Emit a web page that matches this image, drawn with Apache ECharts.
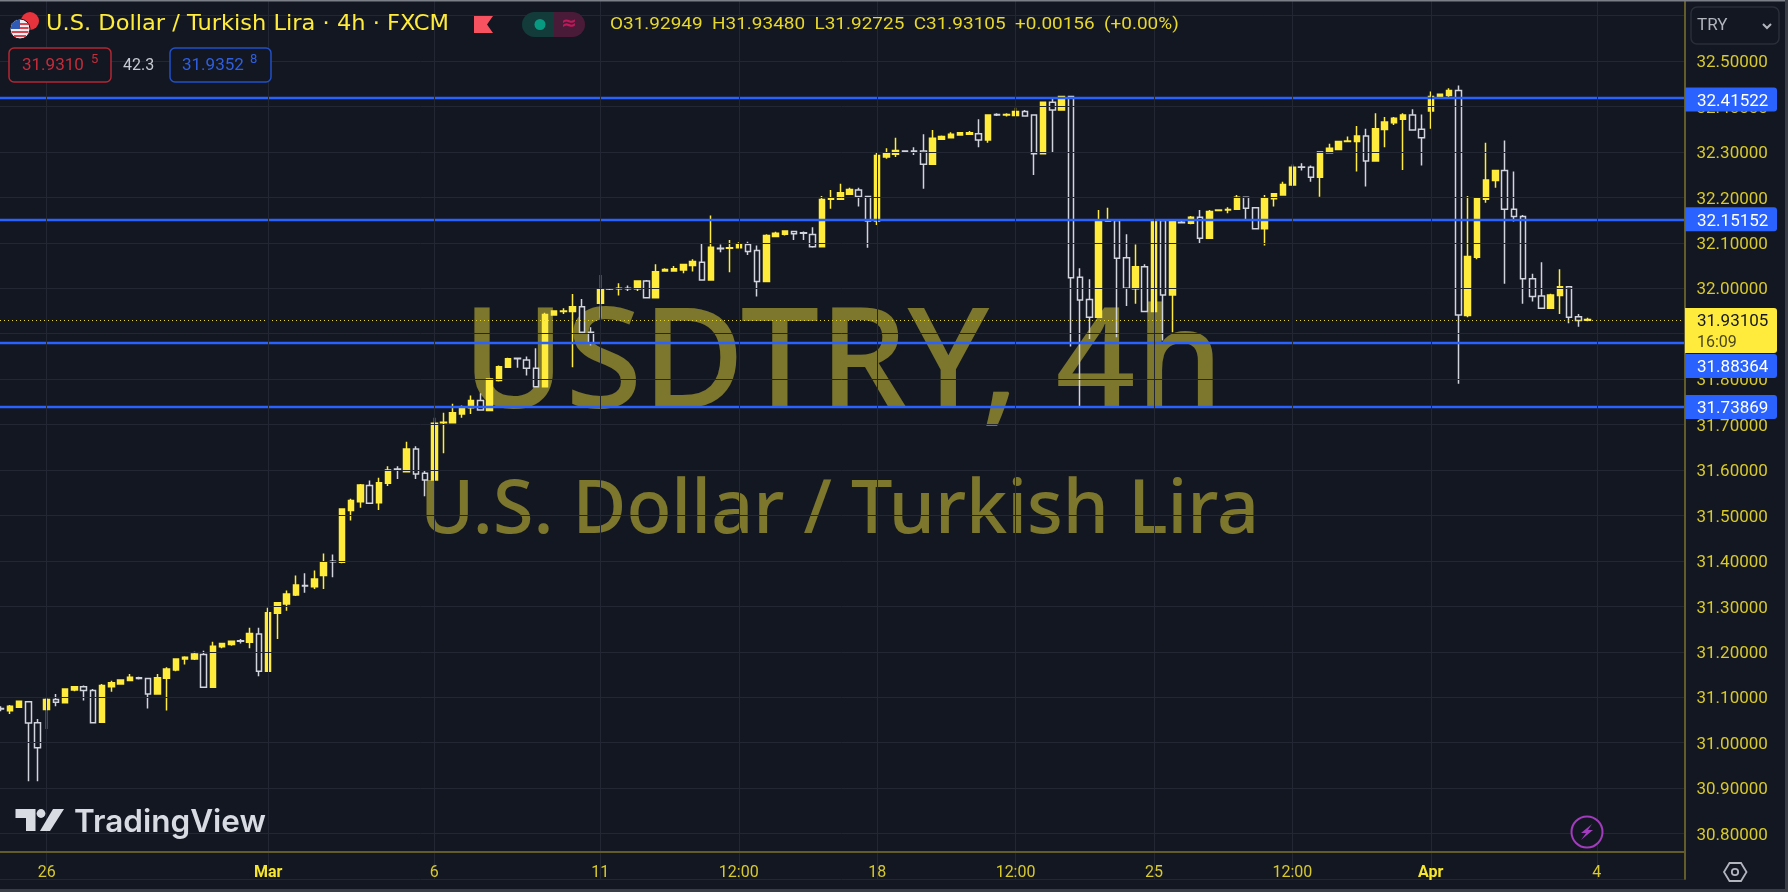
<!DOCTYPE html>
<html><head><meta charset="utf-8">
<style>html,body{margin:0;padding:0;background:#131722;overflow:hidden}#c{width:1788px;height:892px}</style>
<script src="https://cdn.jsdelivr.net/npm/echarts@6/dist/echarts.min.js"></script>
</head><body><div id="c"></div>
<script>
// [open, close, low, high]
const candles = [
[31.075,31.074,31.069,31.080],[31.070,31.080,31.063,31.083],[31.078,31.091,31.078,31.093],[31.090,31.043,30.915,31.091],
[31.044,30.989,30.915,31.052],[31.073,31.095,31.030,31.100],[31.095,31.089,31.080,31.107],[31.088,31.118,31.088,31.119],
[31.116,31.123,31.113,31.124],[31.123,31.115,31.093,31.126],[31.115,31.044,31.042,31.118],[31.045,31.126,31.045,31.129],
[31.123,31.132,31.112,31.136],[31.129,31.138,31.129,31.139],[31.137,31.144,31.137,31.151],[31.143,31.141,31.139,31.145],
[31.141,31.107,31.075,31.142],[31.107,31.143,31.107,31.151],[31.142,31.162,31.071,31.166],[31.160,31.184,31.157,31.185],
[31.184,31.188,31.172,31.190],[31.184,31.195,31.182,31.200],[31.194,31.122,31.121,31.202],[31.122,31.212,31.122,31.222],
[31.211,31.218,31.208,31.220],[31.216,31.223,31.213,31.225],[31.224,31.223,31.218,31.228],[31.221,31.240,31.208,31.253],
[31.239,31.157,31.146,31.253],[31.157,31.286,31.157,31.297],[31.285,31.308,31.228,31.309],[31.305,31.327,31.290,31.335],
[31.325,31.347,31.323,31.368],[31.346,31.345,31.330,31.373],[31.343,31.360,31.338,31.379],[31.368,31.398,31.338,31.416],
[31.399,31.398,31.364,31.414],[31.397,31.514,31.395,31.515],[31.511,31.533,31.489,31.537],[31.530,31.567,31.517,31.569],
[31.566,31.527,31.525,31.577],[31.528,31.572,31.512,31.583],[31.571,31.600,31.565,31.608],[31.602,31.601,31.580,31.608],
[31.596,31.646,31.596,31.662],[31.646,31.591,31.580,31.652],[31.593,31.578,31.542,31.598],[31.578,31.703,31.578,31.715],
[31.704,31.705,31.637,31.726],[31.704,31.726,31.704,31.746],[31.723,31.738,31.715,31.742],[31.737,31.753,31.723,31.764],
[31.753,31.732,31.731,31.769],[31.731,31.800,31.731,31.800],[31.797,31.827,31.795,31.830],[31.826,31.845,31.826,31.847],
[31.846,31.845,31.825,31.847],[31.842,31.824,31.808,31.850],[31.824,31.783,31.782,31.868],[31.783,31.942,31.783,31.946],
[31.941,31.950,31.941,31.951],[31.949,31.950,31.943,31.956],[31.949,31.959,31.826,31.987],[31.959,31.903,31.902,31.976],
[31.903,31.880,31.874,31.914],[31.967,31.998,31.935,32.029],[31.999,31.998,31.996,32.000],[31.999,32.000,31.984,32.011],
[32.000,31.999,31.994,32.006],[31.999,32.016,31.994,32.017],[32.016,31.979,31.978,32.018],[31.979,32.036,31.978,32.053],
[32.038,32.041,32.038,32.044],[32.038,32.043,32.038,32.049],[32.040,32.052,32.033,32.053],[32.050,32.059,32.037,32.064],
[32.057,32.018,32.017,32.099],[32.018,32.090,32.018,32.160],[32.088,32.087,32.079,32.096],[32.088,32.089,32.035,32.106],
[32.089,32.097,32.088,32.101],[32.096,32.081,32.073,32.102],[32.083,32.015,31.982,32.094],[32.015,32.116,32.015,32.119],
[32.114,32.121,32.114,32.124],[32.119,32.126,32.116,32.127],[32.125,32.120,32.106,32.126],[32.122,32.121,32.106,32.125],
[32.118,32.091,32.089,32.134],[32.091,32.195,32.091,32.203],[32.196,32.197,32.175,32.216],[32.196,32.210,32.196,32.230],
[32.207,32.217,32.205,32.221],[32.216,32.202,32.180,32.221],[32.202,32.148,32.089,32.203],[32.148,32.292,32.139,32.300],
[32.289,32.298,32.285,32.308],[32.295,32.303,32.289,32.331],[32.302,32.301,32.298,32.303],[32.302,32.301,32.293,32.310],
[32.302,32.273,32.219,32.339],[32.273,32.330,32.273,32.348],[32.328,32.334,32.328,32.336],[32.331,32.339,32.331,32.343],
[32.337,32.342,32.337,32.344],[32.339,32.342,32.339,32.346],[32.340,32.326,32.310,32.372],[32.326,32.381,32.320,32.383],
[32.382,32.381,32.379,32.385],[32.381,32.382,32.378,32.385],[32.380,32.389,32.380,32.397],[32.389,32.379,32.378,32.392],
[32.381,32.296,32.249,32.383],[32.296,32.409,32.296,32.411],[32.409,32.392,32.298,32.417],[32.392,32.422,32.392,32.422],
[32.422,32.023,31.872,32.423],[32.024,31.974,31.740,32.044],[31.975,31.936,31.888,32.020],[31.936,32.147,31.936,32.172],
[32.148,32.149,32.147,32.177],[32.149,32.066,31.892,32.152],[32.067,32.000,31.961,32.119],[31.999,32.047,31.966,32.096],
[32.047,31.949,31.948,32.053],[31.949,32.149,31.949,32.150],[32.149,31.985,31.885,32.152],[31.985,32.147,31.903,32.152],
[32.145,32.144,32.143,32.152],[32.143,32.156,32.141,32.159],[32.156,32.110,32.099,32.172],[32.110,32.169,32.110,32.172],
[32.171,32.172,32.171,32.172],[32.172,32.173,32.165,32.178],[32.174,32.200,32.174,32.205],[32.200,32.176,32.152,32.202],
[32.177,32.131,32.130,32.178],[32.131,32.197,32.094,32.205],[32.197,32.208,32.180,32.209],[32.205,32.228,32.204,32.234],
[32.227,32.266,32.225,32.272],[32.267,32.266,32.259,32.275],[32.266,32.244,32.234,32.270],[32.244,32.300,32.201,32.301],
[32.298,32.308,32.297,32.318],[32.305,32.323,32.305,32.324],[32.323,32.324,32.323,32.334],[32.323,32.335,32.257,32.357],
[32.335,32.280,32.224,32.351],[32.280,32.351,32.280,32.385],[32.349,32.366,32.310,32.377],[32.364,32.374,32.359,32.377],
[32.372,32.381,32.260,32.385],[32.381,32.348,32.347,32.394],[32.350,32.331,32.270,32.382],[32.390,32.422,32.351,32.433],
[32.421,32.427,32.421,32.428],[32.424,32.435,32.420,32.440],[32.435,31.941,31.790,32.446],[31.940,32.070,31.936,32.203],
[32.068,32.197,32.064,32.200],[32.196,32.238,32.188,32.320],[32.237,32.259,32.221,32.260],[32.259,32.174,32.010,32.325],
[32.174,32.158,32.147,32.257],[32.158,32.021,31.966,32.161],[32.021,31.982,31.971,32.032],[31.983,31.956,31.955,32.057],
[31.956,31.985,31.956,31.988],[31.984,32.003,31.943,32.042],[32.003,31.936,31.923,32.004],[31.937,31.929,31.915,31.943],
[31.92949,31.93105,31.92725,31.93480]
];
const emptySlots = 10;                       // free bars right of the last candle
const tickIndex  = [5,29,47,65,80,95,110,125,140,155,173];
const tickLabels = ['26','Mar','6','11','12:00','18','12:00','25','12:00','Apr','4'];
const boldTicks  = ['Mar','Apr'];
const levelPrices = [32.41522,32.15152,31.88364,31.73869];
const levelTagShift = [0,0,25,0];
const lastPrice = 31.93105;
const lastCountdown = '16:09';
const ohlcText = 'O31.92949  H31.93480  L31.92725  C31.93105  +0.00156  (+0.00%)';
const categories = Array.from({length:candles.length+emptySlots},(_,i)=>{
  const k=tickIndex.indexOf(i); return k>=0?tickLabels[k]:'';
});
const BG='#131722',YEL='#ffeb3b',AXC='#625b2a',LBL='#d8c92c',GRID='#232733';
const W_SANS='"Noto Sans"';
const hasTick=(i)=>tickIndex.includes(i);
const chart=echarts.init(document.getElementById('c'),null,{renderer:'canvas'});
chart.setOption({
  animation:false,backgroundColor:BG,
  grid:{left:-4,width:1688.5,top:-29.9,bottom:13,containLabel:false,outerBoundsMode:'none'},
  xAxis:{type:'category',data:categories,offset:-27,z:6,boundaryGap:true,
    axisLine:{show:true,onZero:false,lineStyle:{color:AXC,width:2}},axisTick:{show:false},
    axisLabel:{interval:(i)=>hasTick(i),margin:13,hideOverlap:false,color:LBL,fontFamily:'Roboto',fontSize:16,
      formatter:(v)=>boldTicks.includes(v)?'{b|'+v+'}':v,
      rich:{b:{fontWeight:'bold',color:'#f7e62e',fontFamily:'Roboto',fontSize:16}}},
    splitLine:{show:true,interval:(i)=>hasTick(i),alignWithLabel:true,lineStyle:{color:GRID,width:1}}
  },
  yAxis:{type:'value',position:'right',min:30.7,max:32.7,interval:0.1,scale:true,z:6,
    axisLine:{show:true,onZero:false,lineStyle:{color:AXC,width:2}},axisTick:{show:false},
    axisLabel:{margin:12,color:LBL,fontFamily:'Roboto',fontSize:17,
      formatter:(v)=>(v>32.55||v<30.75)?'':'{p|'+v.toFixed(5)+'}',
      rich:{p:{color:LBL,fontFamily:'Roboto',fontSize:17,padding:[4,0,0,0]}}},
    splitLine:{show:true,lineStyle:{color:GRID,width:1}}
  },
  series:[{type:'candlestick',data:candles.map(c=>c.slice()),barWidth:6,z:3,
    itemStyle:{color:YEL,color0:BG,borderColor:YEL,borderColor0:'#d1d4dc',borderWidth:1.5},
    markLine:{silent:true,symbol:'none',animation:false,label:{show:false},z:4,
      data:[
        ...levelPrices.map(v=>({yAxis:v,lineStyle:{color:'#2962ff',width:2.4,type:'solid'}})),
        {yAxis:lastPrice,lineStyle:{color:'#e6d63a',width:1,type:[1,3]}}
      ]}
  }]
});
const py=(v)=>chart.convertToPixel({yAxisIndex:0},v);
const txt=(x,y,text,font,fill,extra)=>Object.assign({type:'text',x,y,z:extra&&extra.z||30,silent:true,scaleX:extra&&extra.sx||1,
  style:{text,font,fill,textAlign:extra&&extra.align||'left',textVerticalAlign:'middle'}},{});
const els=[];
// watermark, under the candles
els.push(Object.assign(txt(462,368,'USDTRY, 4h','500 140px '+W_SANS,'rgba(255,235,59,0.45)',{z:1,sx:1.0}),{id:'wm1'}));
els.push(Object.assign(txt(420,512,'U.S. Dollar / Turkish Lira','500 74px '+W_SANS,'rgba(255,235,59,0.45)',{z:1,sx:0.995}),{id:'wm2'}));
// cover the extended grid below the time axis
els.push({type:'rect',silent:true,z:5,shape:{x:0,y:853,width:1684,height:39},style:{fill:BG}});
// price tags
levelPrices.forEach((v,i)=>{
  const y=py(v)+levelTagShift[i];
  els.push({type:'rect',silent:true,z:20,shape:{x:1685,y:y-12,width:92,height:24,r:[0,3,3,0]},style:{fill:'#2962ff'}});
  els.push(txt(1697,y+2,v.toFixed(5),'17px Roboto','#ffffff',{z:21}));
});
const ly=py(lastPrice);
els.push({type:'rect',silent:true,z:22,shape:{x:1685,y:ly-11.5,width:92,height:45,r:[0,3,3,0]},style:{fill:YEL}});
els.push(txt(1697,ly+2,lastPrice.toFixed(5),'17px Roboto','#131722',{z:23}));
els.push(txt(1697,ly+23,lastCountdown,'16px Roboto','#4a4720',{z:23}));
// currency button
els.push({type:'rect',silent:true,z:20,shape:{x:1691,y:7,width:88,height:37,r:6},style:{fill:BG,stroke:'#2a2e39',lineWidth:1.5}});
els.push(txt(1697,26,'TRY','17px Roboto','#b2b5be',{z:21}));
els.push({type:'polyline',silent:true,z:21,shape:{points:[[1763,24],[1767,28],[1771,24]]},style:{stroke:'#b2b5be',lineWidth:2,fill:null}});
// header
els.push({type:'circle',silent:true,z:20,shape:{cx:30,cy:21,r:9},style:{fill:'#e8323c'}});
els.push({type:'circle',silent:true,z:21,shape:{cx:20,cy:29,r:10},style:{fill:'#eceff3',stroke:BG,lineWidth:1}});
[24,28,32,36].forEach(y=>els.push({type:'rect',silent:true,z:22,shape:{x:y===36?14:11.5,y:y-0.9,width:y===36?12:17,height:1.8},style:{fill:'#d8333d'}}));
els.push({type:'sector',silent:true,z:23,shape:{cx:20,cy:29,r:9.5,r0:0,startAngle:Math.PI,endAngle:Math.PI*1.5},style:{fill:'#2f5bb5'}});
els.push(txt(46,25,'U.S. Dollar / Turkish Lira · 4h · FXCM','20.5px "DejaVu Sans"','#ffeb3b',{z:21,sx:1.1}));
els.push({type:'polygon',silent:true,z:21,shape:{points:[[474,16],[493,16],[487,24.5],[493,33],[474,33]]},style:{fill:'#f7525f'}});
els.push({type:'rect',silent:true,z:21,shape:{x:522,y:12,width:32,height:25,r:[12.5,0,0,12.5]},style:{fill:'#123b3a'}});
els.push({type:'rect',silent:true,z:21,shape:{x:554,y:12,width:31,height:25,r:[0,12.5,12.5,0]},style:{fill:'#4a1b38'}});
els.push({type:'circle',silent:true,z:22,shape:{cx:540,cy:24.5,r:5.5},style:{fill:'#089981'}});
els.push(Object.assign(txt(569,24,'≈','bold 19px "DejaVu Sans"','#c2185b',{z:22,align:'center'}),{}));
els.push(txt(610,25,ohlcText,'17px Roboto','#e8d82c',{z:21,sx:1.115}));
els.push({type:'rect',silent:true,z:20,shape:{x:9,y:48,width:102,height:34,r:5},style:{fill:BG,stroke:'#b22833',lineWidth:1.5}});
els.push(txt(22,66,'31.9310','17px Roboto','#c62c3a',{z:21}));
els.push(txt(91,60,'5','13px Roboto','#c62c3a',{z:21}));
els.push(txt(123,66,'42.3','16px Roboto','#c8cbd3',{z:21}));
els.push({type:'rect',silent:true,z:20,shape:{x:170,y:48,width:101,height:34,r:5},style:{fill:BG,stroke:'#2250c8',lineWidth:1.5}});
els.push(txt(182,66,'31.9352','17px Roboto','#2f5fe0',{z:21}));
els.push(txt(250,60,'8','13px Roboto','#2f5fe0',{z:21}));
// TradingView logo
els.push({type:'polygon',silent:true,z:21,shape:{points:[[15.5,809],[35.5,809],[35.5,831],[26,831],[26,818],[15.5,818]]},style:{fill:'#d9dbe3'}});
els.push({type:'circle',silent:true,z:21,shape:{cx:41,cy:813.5,r:4.4},style:{fill:'#d9dbe3'}});
els.push({type:'polygon',silent:true,z:21,shape:{points:[[53,809],[64,809],[50,831],[40,831]]},style:{fill:'#d9dbe3'}});
els.push(txt(74,823,'TradingView','600 31.5px Inter','#d9dbe3',{z:21}));
// bolt badge
els.push({type:'circle',silent:true,z:21,shape:{cx:1587,cy:832,r:15.5},style:{fill:BG,stroke:'#a23bbd',lineWidth:2}});
els.push({type:'polygon',silent:true,z:22,shape:{points:[[1592,824],[1581,833],[1586,833],[1581,840],[1593,830],[1588,830]]},style:{fill:'#a23bbd'}});
// settings hexagon
els.push({type:'polygon',silent:true,z:21,shape:{points:[[1724,872],[1729.5,863],[1741,863],[1746.5,872],[1741,881],[1729.5,881]]},style:{fill:'none',stroke:'#b2b5be',lineWidth:1.8}});
els.push({type:'circle',silent:true,z:21,shape:{cx:1735,cy:872,r:3.2},style:{fill:'none',stroke:'#b2b5be',lineWidth:1.8}});
// window frame
els.push({type:'rect',silent:true,z:40,shape:{x:0,y:0,width:1788,height:1.5},style:{fill:'#7b7f88'}});
els.push({type:'rect',silent:true,z:40,shape:{x:0,y:889,width:1788,height:3},style:{fill:'#3a3d45'}});
els.push({type:'rect',silent:true,z:40,shape:{x:1785,y:0,width:3,height:892},style:{fill:'#3a3d45'}});
chart.setOption({graphic:[{elements:els}]});
</script></body></html>
